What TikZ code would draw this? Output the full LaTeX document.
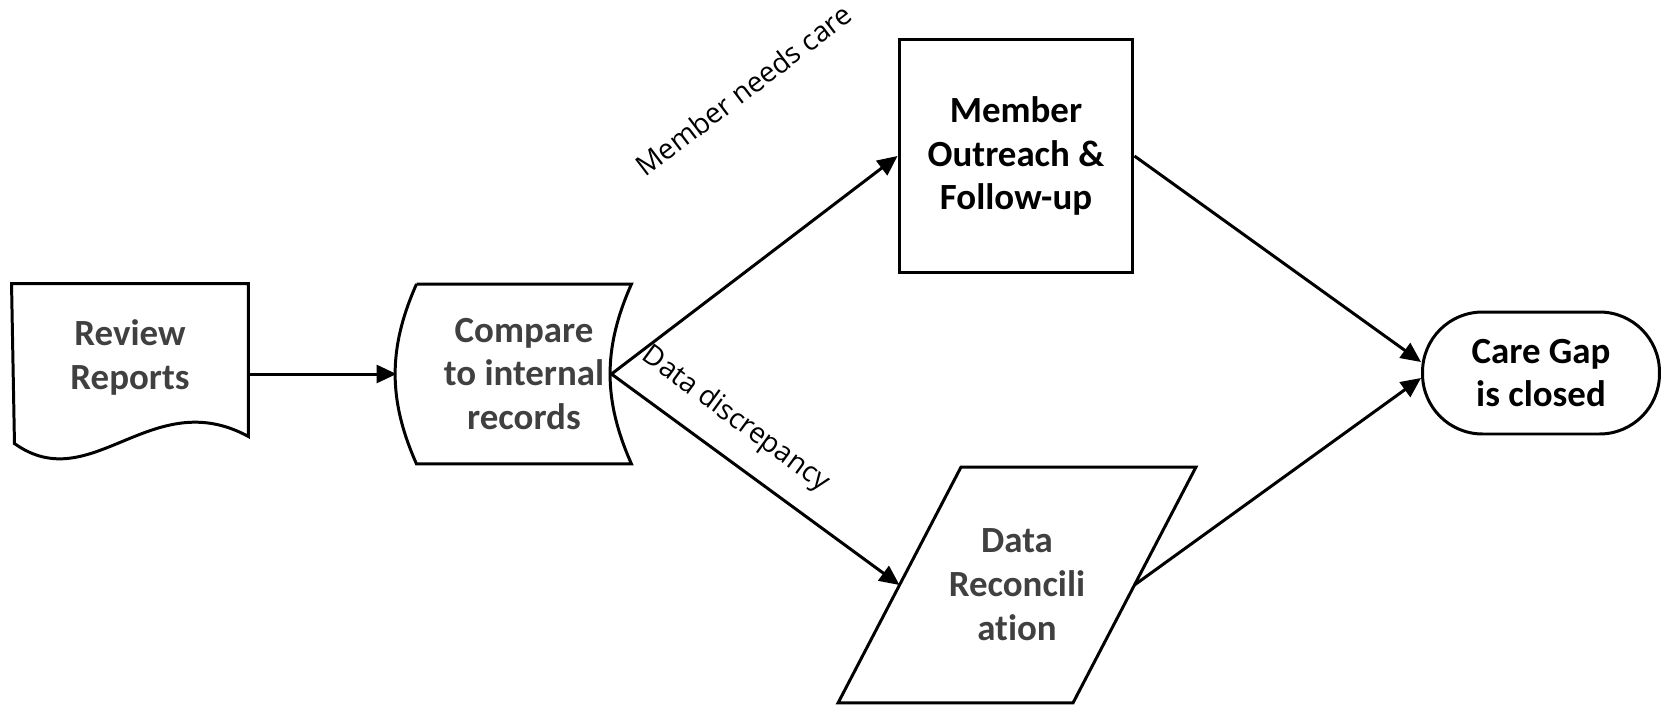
\documentclass[tikz,border=0pt]{standalone}
\usepackage{fontspec}
\setmainfont{Carlito}[Ligatures=NoCommon]
\newfontfamily\edgefont{Open Sans}
\usepackage{xcolor}
\usetikzlibrary{shapes.geometric,arrows.meta,positioning}
\definecolor{boxtext}{HTML}{404040}

\begin{document}
\begin{tikzpicture}[
    x=0.02cm, y=0.02cm,
    line width=1.7pt,
    boxfont/.style={font=\fontsize{21}{25}\selectfont\bfseries, align=center},
    doc/.style={rectangle, minimum width=4.68cm, minimum height=2.88cm, boxfont, text=boxtext},
    stored/.style={rectangle, minimum width=4.24cm, minimum height=3.54cm, boxfont, text=boxtext},
    process/.style={rectangle, draw, minimum width=4.68cm, minimum height=4.68cm, boxfont},
    io/.style={rectangle, minimum width=4.64cm, minimum height=4.66cm, boxfont, text=boxtext},
    terminal/.style={rectangle, rounded corners=1.2cm, draw, minimum width=4.74cm, minimum height=2.44cm, boxfont},
    flow/.style={-{Triangle[length=0.4cm, width=0.36cm]}},
    edgelabel/.style={font=\edgefont\fontsize{16}{19}\selectfont, sloped, inner sep=2pt}
]
    \useasboundingbox (0,0) rectangle (1668,-704);

    % document shape with wavy bottom
    \node (review) [doc] at (130,-357) {Review\\Reports};
    \draw (review.north west) -- (review.north east) -- ++(0,-153)
        .. controls +(-97,53) and +(77,-55) .. ++(-234,-7) -- cycle;

    % stored data shape
    \node (cmp) [stored] at (524,-374) {Compare\\to internal\\records};
    \draw (cmp.north west) -- (cmp.north east) to[bend right=24] (cmp.south east)
        -- (cmp.south west) to[bend left=24] (cmp.north west);
    \coordinate (cmpout) at ([xshift=-0.4cm]cmp.east);
    \coordinate (cmpin) at ([xshift=-0.4cm]cmp.west);

    \node (member) [process] at (1016,-156) {Member\\Outreach \&\\Follow-up};

    % parallelogram
    \node (recon) [io] at (1017,-585) {Data\\Reconcili\\ation};
    \draw ([xshift=1.23cm]recon.north west) -- ([xshift=1.23cm]recon.north east)
        -- ([xshift=-1.23cm]recon.south east) -- ([xshift=-1.23cm]recon.south west) -- cycle;

    \node (care) [terminal] at (1541,-373) {Care Gap\\is closed};

    \draw [flow] (review.east |- cmpin) -- (cmpin);
    \draw [flow] (cmpout) -- (member.west)
        node [edgelabel, pos=0.77, above=2.6cm] {Member needs care};
    \draw [flow] (cmpout) -- (recon.west)
        node [edgelabel, pos=0.355, above=0.35cm] {Data discrepancy};
    \draw [flow] (member.east) -- ([yshift=0.22cm]care.west);
    \draw [flow] (recon.east) -- ([yshift=-0.1cm]care.west);
\end{tikzpicture}
\end{document}
